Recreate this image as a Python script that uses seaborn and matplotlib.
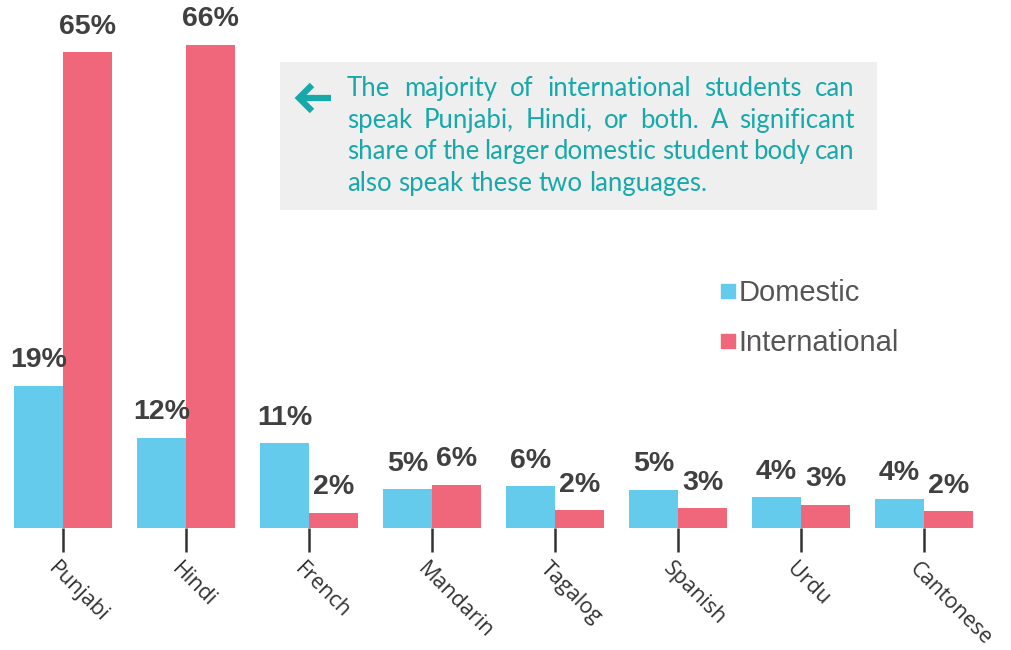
import matplotlib
matplotlib.use("Agg")
import matplotlib.pyplot as plt
import seaborn as sns
import pandas as pd
from matplotlib.patches import Rectangle
from matplotlib.lines import Line2D
from matplotlib.transforms import ScaledTranslation

languages = ['Punjabi', 'Hindi', 'French', 'Mandarin', 'Tagalog', 'Spanish', 'Urdu', 'Cantonese']
domestic = [19.4, 12.3, 11.6, 5.3, 5.7, 5.2, 4.2, 4.0]
international = [65.0, 66.0, 2.1, 5.9, 2.4, 2.7, 3.2, 2.3]
domestic_labels = ['19%', '12%', '11%', '5%', '6%', '5%', '4%', '4%']
international_labels = ['65%', '66%', '2%', '6%', '2%', '3%', '3%', '2%']
note_lines = ['The majority of international students can',
              'speak Punjabi, Hindi, or both. A significant',
              'share of the larger domestic student body can',
              'also speak these two languages.']

blue = '#64CBEC'
pink = '#F0667A'
teal = '#17A9AA'

df = pd.DataFrame({
    'language': languages * 2,
    'share': domestic + international,
    'group': ['Domestic'] * len(languages) + ['International'] * len(languages),
})

sns.set_style('white')
fig = plt.figure(figsize=(10.11, 6.5), dpi=100)
ax = fig.add_axes([0, 122 / 650, 1, 528 / 650])

sns.barplot(data=df, x='language', y='share', hue='group', order=languages,
            hue_order=['Domestic', 'International'], palette=[blue, pink],
            saturation=1, width=0.8, linewidth=0, ax=ax, legend=False)

ax.set_xlim(-63 / 123, (1011 - 63) / 123)
ax.set_ylim(0, 528 / 7.32)
sns.despine(ax=ax, left=True, bottom=True)
ax.set_xlabel('')
ax.set_ylabel('')
ax.set_yticks([])

for cont, labs in zip(ax.containers, [domestic_labels, international_labels]):
    ax.bar_label(cont, labels=labs, padding=9, fontsize=20.5, fontweight='bold',
                 color='#404040', family='Liberation Sans')

ax.tick_params(axis='x', bottom=True, length=17, width=1.8, color='#333333', direction='out', pad=5)
ax.set_xticks(range(len(languages)))
ax.set_xticklabels(languages, rotation=-45, ha='left', va='top', rotation_mode='anchor',
                   fontsize=15.5, color='#333333', family='Open Sans')
for lab in ax.get_xticklabels():
    lab.set_transform(lab.get_transform() + ScaledTranslation(-4 / 100, 0, fig.dpi_scale_trans))

# legend
handles = [Line2D([], [], marker='s', linestyle='', markersize=9.5, color=c) for c in [blue, pink]]
fig.legend(handles, ['Domestic', 'International'], loc='center left',
           bbox_to_anchor=(705 / 1011, (650 - 318) / 650), frameon=False,
           prop={'family': 'Liberation Sans', 'size': 21}, labelcolor='#555555',
           handlelength=0.6, handletextpad=0.05, labelspacing=0.75, borderpad=0)

# note box
fig.patches.append(Rectangle((280 / 1011, (650 - 210) / 650), 597 / 1011, 148 / 650,
                             transform=fig.transFigure, facecolor='#EFEFEF', edgecolor='none', zorder=0))

x_left, x_right = 347, 855
fsize = 18.5
renderer = fig.canvas.get_renderer()
for i, line in enumerate(note_lines):
    base_y = (650 - (96 + 31.7 * i)) / 650
    words = line.split()
    texts = [fig.text(0, base_y, w, fontsize=fsize, family='Lato', color=teal, va='baseline')
             for w in words]
    widths = [t.get_window_extent(renderer).width for t in texts]
    if i < len(note_lines) - 1:
        gap = (x_right - x_left - sum(widths)) / (len(words) - 1)
    else:
        space = fig.text(0, 0, ' ', fontsize=fsize, family='Lato')
        gap = space.get_window_extent(renderer).width
        space.remove()
    x = x_left
    for t, w in zip(texts, widths):
        t.set_x(x / 1011)
        x += w + gap

# arrow
arrow_kw = dict(transform=fig.transFigure, color=teal, linewidth=4.5, solid_capstyle='butt',
                solid_joinstyle='miter')
fig.add_artist(Line2D([298 / 1011, 331 / 1011], [(650 - 98) / 650] * 2, **arrow_kw))
fig.add_artist(Line2D([312 / 1011, 299 / 1011, 312 / 1011],
                      [(650 - 85) / 650, (650 - 98) / 650, (650 - 111) / 650], **arrow_kw))

fig.savefig('out.png', dpi=100)
